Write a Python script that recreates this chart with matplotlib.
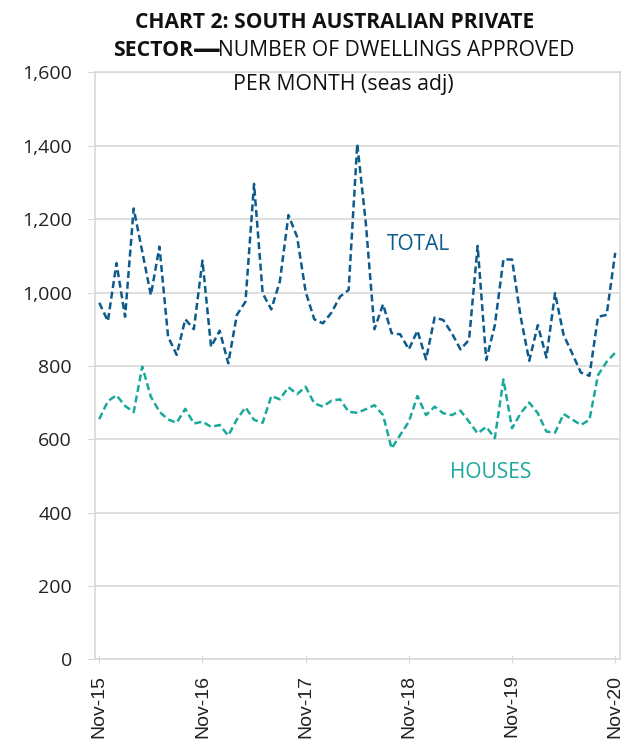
import matplotlib
matplotlib.use("Agg")
from matplotlib import pyplot as plt
import numpy as np

plt.rcParams['font.family'] = ['Open Sans', 'DejaVu Sans']

# Monthly approvals, Nov-15 .. Nov-20 (seasonally adjusted)
total = [972, 922, 1080, 934, 1229, 1111, 993, 1125, 880, 830, 927, 900,
         1087, 852, 896, 807, 939, 975, 1296, 998, 954, 1030, 1211, 1152,
         1002, 927, 916, 945, 989, 1007, 1405, 1188, 900, 968, 889, 886,
         845, 896, 818, 932, 925, 889, 845, 871, 1127, 816, 911, 1090,
         1090, 934, 814, 911, 823, 998, 884, 834, 782, 773, 934, 939, 1108]
houses = [655, 704, 720, 691, 674, 798, 716, 675, 654, 645, 683, 643,
          648, 634, 639, 610, 654, 687, 653, 645, 718, 709, 742, 723,
          743, 698, 689, 705, 709, 675, 672, 682, 693, 666, 575, 612,
          648, 718, 666, 689, 671, 666, 678, 648, 616, 634, 603, 763,
          630, 671, 700, 671, 621, 618, 669, 654, 639, 653, 775, 811, 836]
tick_labels = ['Nov-15', 'Nov-16', 'Nov-17', 'Nov-18', 'Nov-19', 'Nov-20']

col_total = '#0d5b8c'
col_houses = '#19a99a'
grid_col = '#d9d9d9'

fig = plt.figure(figsize=(6.4, 7.44), dpi=100)
ax = fig.add_axes([0.1484, 0.1136, 0.8196, 0.7892])

months = np.arange(len(total))
ax.plot(months, total, color=col_total, lw=1.8, linestyle=(0, (2.8, 1.5)))
ax.plot(months, houses, color=col_houses, lw=1.8, linestyle=(0, (2.8, 1.5)))

ax.set_xlim(-0.5, len(total) - 0.5)
ax.set_ylim(0, 1600)
ax.set_yticks(np.arange(0, 1601, 200))
ax.set_yticklabels([f'{v:,}' for v in range(0, 1601, 200)])
ax.set_xticks(months[::12])
ax.set_xticklabels(tick_labels, rotation=90, family=['Liberation Sans', 'DejaVu Sans'])

ax.grid(axis='y', color=grid_col, lw=1.2)
ax.set_axisbelow(True)
for s in ax.spines.values():
    s.set_color(grid_col)
    s.set_linewidth(1.2)
ax.tick_params(axis='y', length=5.8, color=grid_col, labelsize=14, labelcolor='#222222', pad=10.8)
ax.tick_params(axis='x', direction='inout', length=5.8, color=grid_col, labelsize=14,
               labelcolor='#222222', pad=8)

ax.text(0.557, 0.706, 'TOTAL', transform=ax.transAxes, color=col_total, fontsize=15,
        va='center')
ax.text(0.677, 0.319, 'HOUSES', transform=ax.transAxes, color=col_houses, fontsize=15,
        va='center')

# title, three lines, second one mixes bold and regular
fig.text(0.523, 0.970, 'CHART 2: SOUTH AUSTRALIAN PRIVATE', ha='center', va='center',
         fontsize=15.1, fontweight='bold', color='#111111')
fig.text(0.302, 0.9254, 'SECTOR', ha='right', va='baseline',
         fontsize=15.3, fontweight='bold', color='#111111')
fig.text(0.302, 0.9227, '\u2014', ha='left', va='baseline',
         fontsize=20, fontweight='bold', color='#111111')
fig.text(0.341, 0.9254, 'NUMBER OF DWELLINGS APPROVED', ha='left', va='baseline',
         fontsize=15.2, color='#111111')
fig.text(0.536, 0.886, 'PER MONTH (seas adj)', ha='center', va='center',
         fontsize=15.3, color='#111111')

fig.savefig('out.png', dpi=100)
